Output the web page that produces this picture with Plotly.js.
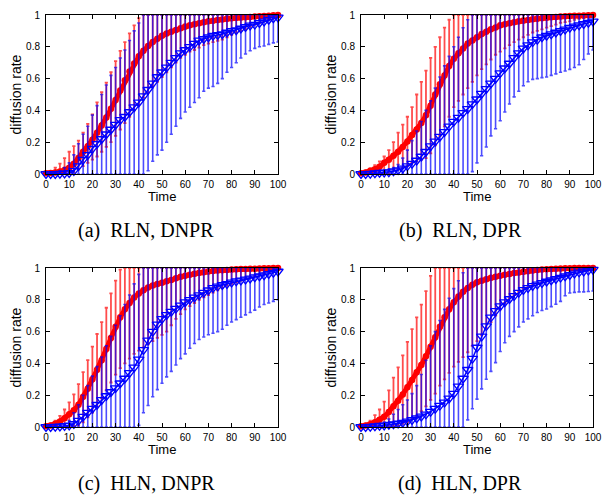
<!DOCTYPE html>
<html><head><meta charset="utf-8">
<script src="https://cdn.plot.ly/plotly-3.0.1.min.js"></script>
<style>html,body{margin:0;padding:0;background:#fff;} #chart{width:602px;height:495px;}</style>
</head><body><div id="chart"></div>
<script>
// time grid
const T = [0,2,4,6,8,10,12,14,16,18,20,22,24,26,28,30,32,34,36,38,40,42,44,46,48,50,52,54,56,58,60,62,64,66,68,70,72,74,76,78,80,82,84,86,88,90,92,94,96,98,100];

// (a) RLN, DNPR
const aRedMean = [0.005,0.007,0.01,0.015,0.025,0.04,0.065,0.1,0.14,0.175,0.215,0.26,0.305,0.355,0.41,0.465,0.525,0.59,0.645,0.695,0.74,0.775,0.805,0.83,0.85,0.87,0.883,0.895,0.905,0.917,0.928,0.935,0.942,0.948,0.955,0.96,0.964,0.968,0.972,0.976,0.979,0.982,0.984,0.986,0.988,0.99,0.992,0.994,0.996,0.998,1.0];
const aRedHi = [0.01,0.02,0.04,0.065,0.1,0.14,0.175,0.21,0.26,0.315,0.375,0.45,0.515,0.575,0.64,0.71,0.775,0.83,0.885,0.935,0.98,1,1,1,1,1,1,1,1,1,1,1,1,1,1,1,1,1,1,1,1,1,1,1,1,1,1,1,1,1,1];
const aRedLo = [0,0,0,0,0,0,0.01,0.03,0.05,0.07,0.09,0.11,0.14,0.17,0.2,0.24,0.28,0.32,0.36,0.4,0.44,0.48,0.51,0.55,0.58,0.61,0.64,0.67,0.7,0.73,0.75,0.77,0.78,0.795,0.81,0.82,0.83,0.838,0.845,0.86,0.875,0.89,0.9,0.91,0.925,0.94,0.95,0.96,0.97,0.98,0.99];
const aBlueMean = [0,0,0,0.002,0.004,0.007,0.02,0.05,0.09,0.12,0.16,0.19,0.22,0.25,0.28,0.31,0.34,0.36,0.39,0.42,0.45,0.49,0.53,0.57,0.61,0.64,0.67,0.7,0.73,0.76,0.78,0.8,0.82,0.84,0.85,0.86,0.87,0.875,0.88,0.89,0.9,0.905,0.915,0.925,0.935,0.94,0.95,0.96,0.97,0.98,0.985];
const aBlueHi = [0,0.005,0.01,0.02,0.04,0.07,0.12,0.19,0.25,0.3,0.37,0.43,0.5,0.56,0.62,0.67,0.73,0.78,0.84,0.9,0.95,1,1,1,1,1,1,1,1,1,1,1,1,1,1,1,1,1,1,1,1,1,1,1,1,1,1,1,1,1,1];
const aBlueLo = [0,0,0,0,0,0,0,0,0,0,0,0,0,0,0,0,0,0,0,0,0,0,0.02,0.08,0.12,0.15,0.2,0.25,0.3,0.35,0.39,0.42,0.45,0.48,0.52,0.54,0.55,0.57,0.6,0.64,0.67,0.7,0.73,0.755,0.775,0.79,0.8,0.805,0.815,0.825,0.83];

// (b) RLN, DPR
const bRedMean = [0.005,0.01,0.02,0.03,0.045,0.07,0.09,0.115,0.14,0.17,0.205,0.245,0.28,0.32,0.37,0.43,0.5,0.565,0.62,0.68,0.725,0.76,0.79,0.82,0.84,0.86,0.88,0.895,0.91,0.922,0.935,0.942,0.948,0.954,0.96,0.965,0.969,0.973,0.977,0.98,0.983,0.986,0.988,0.99,0.992,0.994,0.995,0.996,0.997,0.998,1.0];
const bRedHi = [0.01,0.02,0.035,0.055,0.08,0.11,0.15,0.2,0.26,0.31,0.36,0.42,0.5,0.58,0.65,0.73,0.8,0.86,0.92,0.97,1,1,1,1,1,1,1,1,1,1,1,1,1,1,1,1,1,1,1,1,1,1,1,1,1,1,1,1,1,1,1];
const bRedLo = [0,0,0,0,0,0,0,0.03,0.03,0.04,0.05,0.07,0.08,0.09,0.1,0.13,0.18,0.24,0.3,0.36,0.42,0.46,0.5,0.54,0.58,0.62,0.66,0.69,0.72,0.75,0.77,0.79,0.81,0.83,0.845,0.86,0.875,0.89,0.9,0.91,0.92,0.93,0.94,0.95,0.955,0.96,0.97,0.975,0.98,0.985,0.99];
const bBlueMean = [0,0,0.002,0.005,0.008,0.01,0.012,0.018,0.025,0.035,0.05,0.065,0.085,0.11,0.14,0.175,0.205,0.235,0.265,0.3,0.33,0.355,0.385,0.41,0.44,0.47,0.505,0.535,0.57,0.6,0.635,0.665,0.695,0.73,0.76,0.79,0.81,0.83,0.845,0.86,0.87,0.88,0.89,0.9,0.91,0.92,0.928,0.936,0.944,0.952,0.96];
const bBlueHi = [0,0.002,0.005,0.01,0.015,0.02,0.03,0.04,0.06,0.1,0.15,0.21,0.27,0.33,0.4,0.46,0.54,0.61,0.68,0.74,0.8,0.86,0.92,0.97,1,1,1,1,1,1,1,1,1,1,1,1,1,1,1,1,1,1,1,1,1,1,1,1,1,1,1];
const bBlueLo = [0,0,0,0,0,0,0,0,0,0,0,0,0,0,0,0,0,0,0,0,0,0,0,0,0.015,0.07,0.115,0.17,0.24,0.285,0.335,0.39,0.44,0.485,0.52,0.555,0.58,0.595,0.6,0.606,0.61,0.62,0.63,0.64,0.648,0.658,0.67,0.687,0.72,0.755,0.78];

// (c) HLN, DNPR
const cRedMean = [0.005,0.01,0.02,0.035,0.055,0.08,0.105,0.14,0.19,0.24,0.3,0.36,0.42,0.49,0.56,0.63,0.69,0.74,0.78,0.815,0.84,0.86,0.878,0.89,0.9,0.908,0.916,0.925,0.935,0.945,0.952,0.958,0.964,0.97,0.974,0.978,0.981,0.984,0.986,0.988,0.99,0.992,0.993,0.994,0.995,0.996,0.997,0.998,0.999,1.0,1.0];
const cRedHi = [0.01,0.02,0.04,0.07,0.11,0.155,0.205,0.27,0.345,0.42,0.505,0.585,0.66,0.75,0.84,0.92,0.99,1,1,1,1,1,1,1,1,1,1,1,1,1,1,1,1,1,1,1,1,1,1,1,1,1,1,1,1,1,1,1,1,1,1];
const cRedLo = [0,0,0,0,0,0,0.005,0.01,0.03,0.06,0.09,0.13,0.18,0.23,0.28,0.33,0.37,0.4,0.43,0.46,0.48,0.5,0.52,0.54,0.56,0.58,0.6,0.64,0.68,0.71,0.74,0.76,0.78,0.8,0.815,0.83,0.845,0.86,0.875,0.89,0.9,0.91,0.92,0.93,0.94,0.95,0.96,0.97,0.975,0.98,0.985];
const cBlueMean = [0,0,0.002,0.004,0.007,0.01,0.02,0.04,0.065,0.09,0.115,0.14,0.17,0.195,0.22,0.245,0.275,0.305,0.34,0.375,0.425,0.485,0.545,0.6,0.645,0.68,0.705,0.725,0.745,0.765,0.785,0.8,0.815,0.83,0.845,0.86,0.875,0.885,0.893,0.9,0.91,0.917,0.922,0.928,0.935,0.942,0.948,0.955,0.963,0.971,0.978];
const cBlueHi = [0,0.002,0.005,0.01,0.02,0.04,0.09,0.14,0.2,0.26,0.32,0.38,0.44,0.51,0.57,0.64,0.7,0.77,0.83,0.9,0.96,1,1,1,1,1,1,1,1,1,1,1,1,1,1,1,1,1,1,1,1,1,1,1,1,1,1,1,1,1,1];
const cBlueLo = [0,0,0,0,0,0,0,0,0,0,0,0,0,0,0,0,0,0,0,0,0.01,0.09,0.135,0.19,0.235,0.275,0.315,0.35,0.39,0.43,0.46,0.495,0.525,0.55,0.566,0.58,0.59,0.6,0.615,0.64,0.66,0.675,0.69,0.705,0.72,0.735,0.755,0.77,0.78,0.79,0.8];

// (d) HLN, DPR
const dRedMean = [0.005,0.01,0.018,0.03,0.045,0.065,0.095,0.13,0.165,0.205,0.25,0.295,0.345,0.39,0.445,0.505,0.565,0.63,0.69,0.74,0.785,0.82,0.85,0.875,0.895,0.91,0.92,0.93,0.938,0.945,0.952,0.958,0.963,0.968,0.972,0.976,0.98,0.984,0.987,0.99,0.992,0.994,0.996,0.997,0.998,0.999,1,1,1,1,1];
const dRedHi = [0.01,0.02,0.04,0.075,0.11,0.16,0.23,0.31,0.375,0.45,0.535,0.615,0.69,0.77,0.855,0.95,1,1,1,1,1,1,1,1,1,1,1,1,1,1,1,1,1,1,1,1,1,1,1,1,1,1,1,1,1,1,1,1,1,1,1];
const dRedLo = [0,0,0,0,0,0,0,0.005,0.01,0.02,0.03,0.05,0.07,0.1,0.13,0.17,0.21,0.26,0.3,0.34,0.38,0.41,0.44,0.47,0.51,0.54,0.58,0.62,0.66,0.7,0.74,0.78,0.81,0.83,0.85,0.87,0.88,0.89,0.9,0.91,0.92,0.93,0.94,0.95,0.96,0.965,0.97,0.975,0.98,0.985,0.99];
const dBlueMean = [0,0,0.002,0.005,0.008,0.01,0.014,0.018,0.022,0.028,0.036,0.045,0.055,0.067,0.08,0.097,0.115,0.135,0.155,0.18,0.21,0.255,0.305,0.36,0.43,0.5,0.57,0.635,0.69,0.73,0.76,0.785,0.805,0.825,0.845,0.862,0.875,0.887,0.897,0.906,0.915,0.923,0.932,0.94,0.948,0.957,0.966,0.973,0.979,0.985,0.99];
const dBlueHi = [0,0.002,0.005,0.01,0.02,0.03,0.05,0.08,0.11,0.14,0.17,0.21,0.26,0.33,0.42,0.51,0.6,0.67,0.74,0.81,0.87,0.92,0.97,1,1,1,1,1,1,1,1,1,1,1,1,1,1,1,1,1,1,1,1,1,1,1,1,1,1,1,1];
const dBlueLo = [0,0,0,0,0,0,0,0,0,0,0,0,0,0,0,0,0,0,0,0,0,0,0,0.045,0.115,0.175,0.24,0.3,0.35,0.405,0.475,0.53,0.57,0.6,0.63,0.66,0.68,0.7,0.72,0.733,0.742,0.757,0.772,0.79,0.825,0.843,0.847,0.85,0.85,0.852,0.855];

const captions = ['(a)\u2002RLN, DNPR', '(b)\u2002RLN, DPR', '(c)\u2002HLN, DNPR', '(d)\u2002HLN, DPR'];
const xTitle = 'Time';
const yTitle = 'diffusion rate';

const panels = [
  {rm:aRedMean, rl:aRedLo, rh:aRedHi, bm:aBlueMean, bl:aBlueLo, bh:aBlueHi},
  {rm:bRedMean, rl:bRedLo, rh:bRedHi, bm:bBlueMean, bl:bBlueLo, bh:bBlueHi},
  {rm:cRedMean, rl:cRedLo, rh:cRedHi, bm:cBlueMean, bl:cBlueLo, bh:cBlueHi},
  {rm:dRedMean, rl:dRedLo, rh:dRedHi, bm:dBlueMean, bl:dBlueLo, bh:dBlueHi}
];

const W = 602, H = 495;
const boxes = [
  {x0:46, x1:278, y0:15, y1:174},
  {x0:361, x1:593, y0:15, y1:174},
  {x0:46, x1:278, y0:268, y1:427},
  {x0:361, x1:593, y0:268, y1:427}
];
const capX = [146, 460, 146, 460];

const sans = 'Liberation Sans, Arial, Helvetica, sans-serif';
const serif = 'Liberation Serif, Times New Roman, serif';

const data = [];
const layout = {
  width: W, height: H, autosize: false,
  margin: {l:0, r:0, t:0, b:0, pad:0},
  paper_bgcolor: '#fff', plot_bgcolor: '#fff',
  showlegend: false,
  annotations: []
};

function plusArr(m, hi){ return m.map((v,i)=>Math.max(0, hi[i]-v)); }
function minusArr(m, lo){ return m.map((v,i)=>Math.max(0, v-lo[i])); }

panels.forEach((p, k) => {
  const n = k + 1;
  const xa = 'x' + (n === 1 ? '' : n), ya = 'y' + (n === 1 ? '' : n);
  // red error bars
  data.push({type:'scatter', mode:'markers', x:T, y:p.rm, xaxis:xa, yaxis:ya,
    marker:{size:4, color:'rgba(0,0,0,0)'}, hoverinfo:'skip', cliponaxis:true,
    error_y:{type:'data', symmetric:false, array:plusArr(p.rm,p.rh), arrayminus:minusArr(p.rm,p.rl),
      color:'rgba(255,0,0,0.7)', thickness:1.8, width:1.6}});
  // red mean band
  data.push({type:'scatter', mode:'lines+markers', x:T, y:p.rm, xaxis:xa, yaxis:ya,
    line:{color:'#ff0000', width:5},
    marker:{symbol:'circle', size:6.5, color:'#ff0000', line:{width:0}}, hoverinfo:'skip', cliponaxis:false});
  // blue error bars
  data.push({type:'scatter', mode:'markers', x:T, y:p.bm, xaxis:xa, yaxis:ya,
    marker:{size:4, color:'rgba(0,0,0,0)'}, hoverinfo:'skip', cliponaxis:true,
    error_y:{type:'data', symmetric:false, array:plusArr(p.bm,p.bh), arrayminus:minusArr(p.bm,p.bl),
      color:'rgba(0,0,255,0.7)', thickness:1.6, width:1.6}});
  // blue mean band
  data.push({type:'scatter', mode:'lines+markers', x:T, y:p.bm, xaxis:xa, yaxis:ya,
    line:{color:'#0000ff', width:1.5},
    marker:{symbol:'triangle-down-open', size:9, color:'#0000ff', line:{width:1.3, color:'#0000ff'}},
    hoverinfo:'skip', cliponaxis:false});

  const b = boxes[k];
  const axCommon = {ticks:'inside', ticklen:4, tickwidth:1, tickcolor:'#000', mirror:'allticks',
    showline:true, linecolor:'#000', linewidth:1, showgrid:false, zeroline:false, fixedrange:true,
    tickfont:{family:sans, size:10, color:'#000'}};
  layout['xaxis' + (n === 1 ? '' : n)] = Object.assign({}, axCommon, {
    domain:[b.x0/W, b.x1/W], range:[0,100], tick0:0, dtick:10, anchor:ya, ticklabelstandoff:1});
  layout['yaxis' + (n === 1 ? '' : n)] = Object.assign({}, axCommon, {
    domain:[1-b.y1/H, 1-b.y0/H], range:[0,1], tick0:0, dtick:0.2, anchor:xa, ticklabelstandoff:3});

  // axis titles
  layout.annotations.push({xref:'paper', yref:'paper', x:(b.x0+b.x1)/2/W, y:1-(b.y1+22)/H,
    text:xTitle, showarrow:false, xanchor:'center', yanchor:'middle',
    font:{family:sans, size:13, color:'#000'}});
  layout.annotations.push({xref:'paper', yref:'paper', x:(b.x0-31)/W, y:1-((b.y0+b.y1)/2)/H,
    text:yTitle, showarrow:false, xanchor:'center', yanchor:'middle', textangle:-90,
    font:{family:sans, size:14, color:'#000'}});
  // caption
  layout.annotations.push({xref:'paper', yref:'paper', x:capX[k]/W, y:1-(b.y1+56)/H,
    text:captions[k], showarrow:false, xanchor:'center', yanchor:'middle',
    font:{family:serif, size:20, color:'#000'}});
});

Plotly.newPlot('chart', data, layout, {staticPlot:true, displayModeBar:false});
</script>
</body></html>
